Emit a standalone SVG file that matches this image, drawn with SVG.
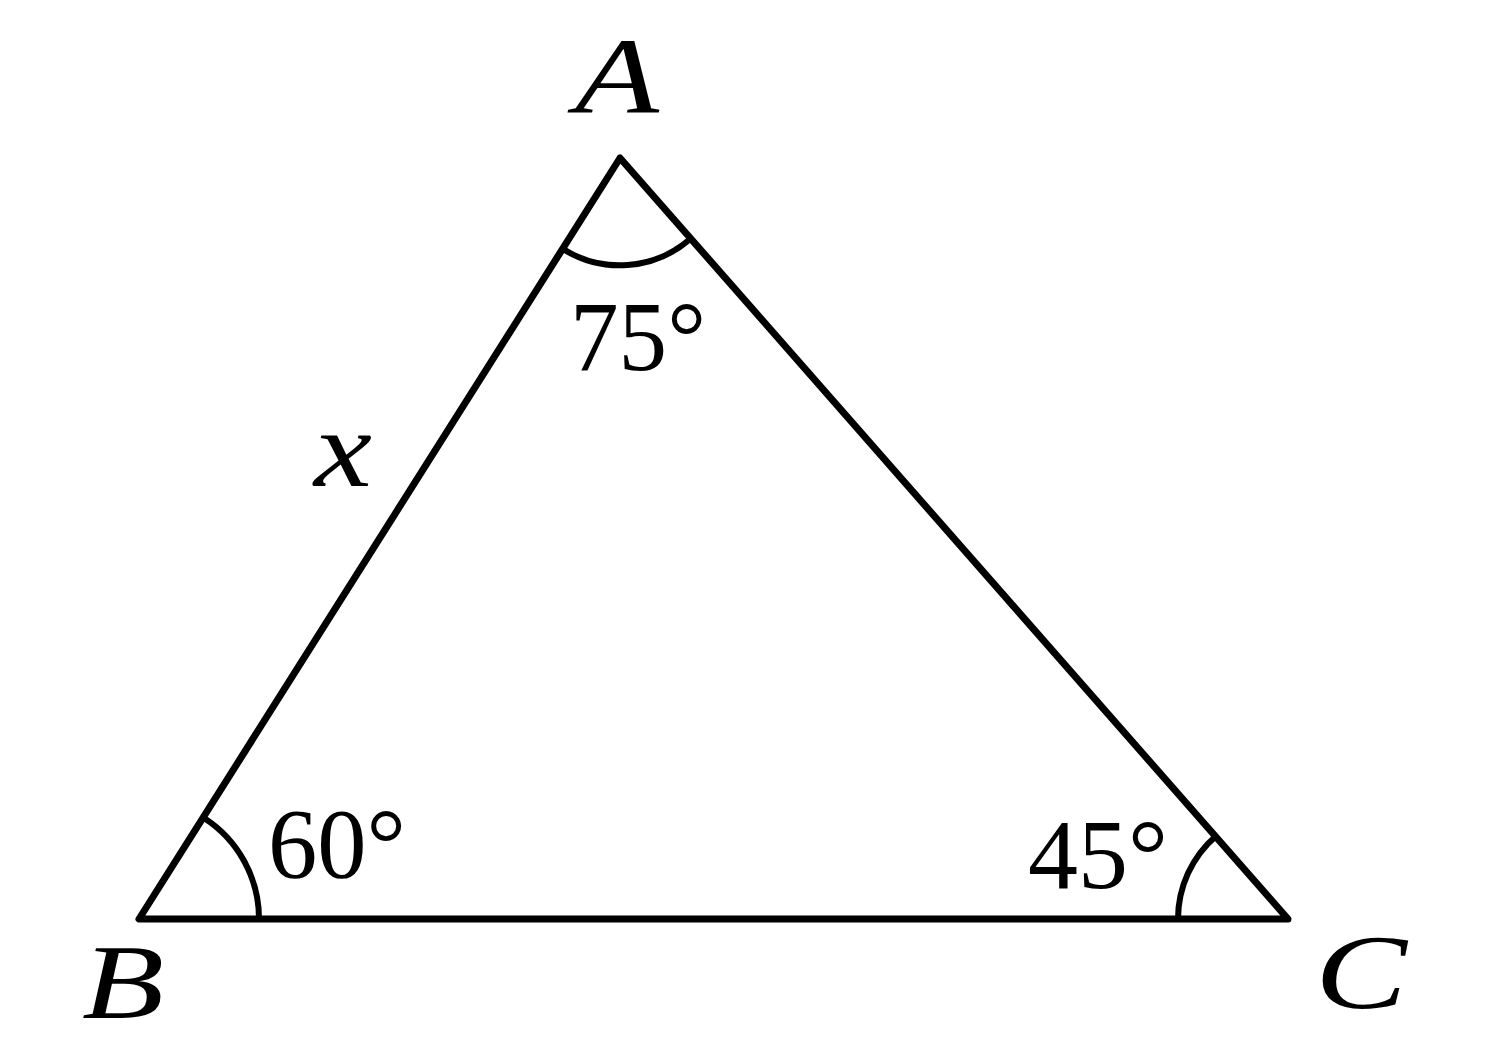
<svg xmlns="http://www.w3.org/2000/svg" width="1486" height="1058" viewBox="0 0 1486 1058">
<style>
.edge{fill:none;stroke:#000;stroke-width:7;stroke-linejoin:round;stroke-linecap:round}
.arc{fill:none;stroke:#000;stroke-width:6}
.lbl{font-family:"Liberation Serif","DejaVu Serif",serif;font-style:italic;fill:#000}
.ang{font-family:"Liberation Serif","DejaVu Serif",serif;fill:#000}
</style>
<rect width="1486" height="1058" fill="#fff"/>
<g id="connectors">
<polygon class="edge" points="620,158 139,919 1288,919"/>
</g>
<g id="node-A">
<path class="arc" d="M563,249 A107,107 0 0 0 689,240"/>
<text class="lbl" x="617" y="113" font-size="108" text-anchor="middle" textLength="84" lengthAdjust="spacingAndGlyphs">A</text>
<text class="ang" x="570" y="370" font-size="100" textLength="136" lengthAdjust="spacingAndGlyphs">75°</text>
</g>
<g id="node-B">
<path class="arc" d="M204,818 A120,120 0 0 1 259,919"/>
<text class="lbl" x="123" y="1018" font-size="106" text-anchor="middle" textLength="82" lengthAdjust="spacingAndGlyphs">B</text>
<text class="ang" x="268" y="877" font-size="100" textLength="138" lengthAdjust="spacingAndGlyphs">60°</text>
</g>
<g id="node-C">
<path class="arc" d="M1178,919 A110,110 0 0 1 1216,836"/>
<text class="lbl" x="1361" y="1008" font-size="106" text-anchor="middle" textLength="92" lengthAdjust="spacingAndGlyphs">C</text>
<text class="ang" x="1028" y="888" font-size="100" textLength="140" lengthAdjust="spacingAndGlyphs">45°</text>
</g>
<g id="label-x">
<text class="lbl" x="343" y="486" font-size="110" text-anchor="middle" textLength="58" lengthAdjust="spacingAndGlyphs">x</text>
</g>
</svg>
